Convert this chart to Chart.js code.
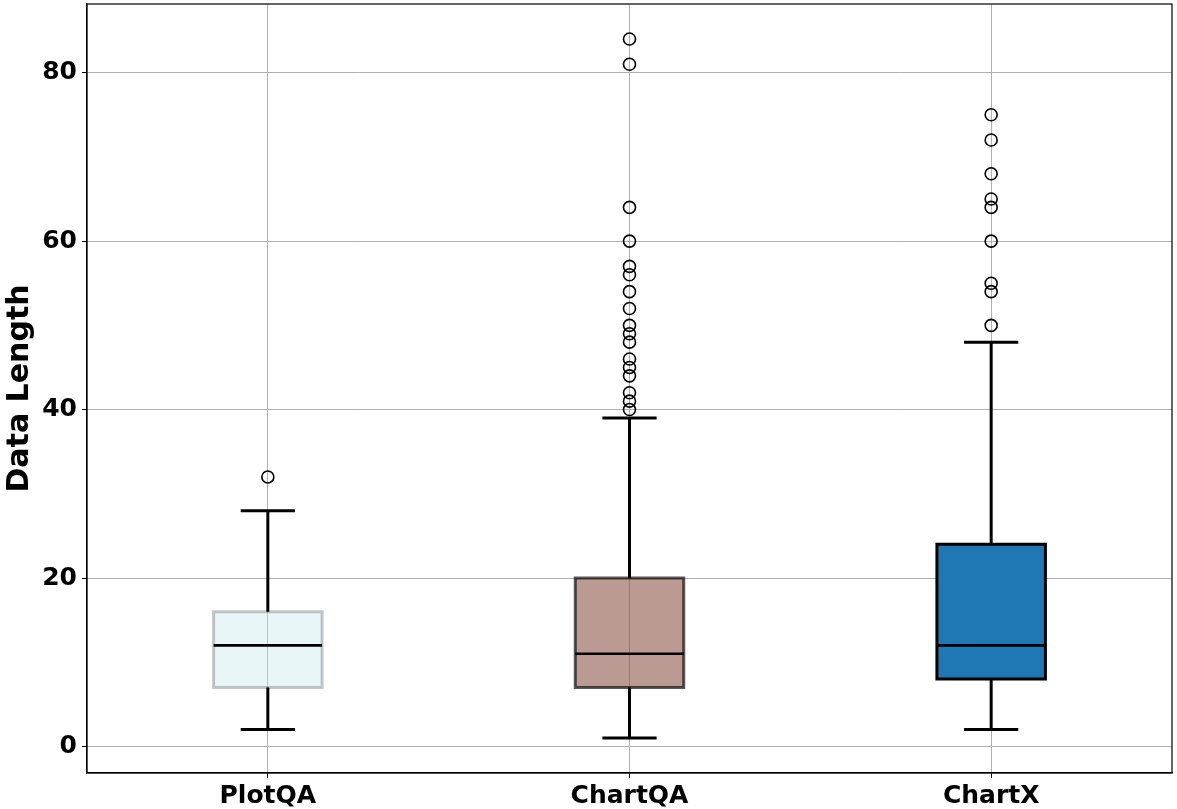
<!DOCTYPE html>
<html>
<head>
<meta charset="utf-8">
<script src="https://cdn.jsdelivr.net/npm/chart.js@4/dist/chart.umd.min.js"></script>
<style>
  html, body { margin: 0; padding: 0; background: #fff; }
  #wrap { width: 1177px; height: 809px; position: relative; }
</style>
</head>
<body>
<div id="wrap"><canvas id="c"></canvas></div>
<script>
// ---- data ----
const categories = ['PlotQA', 'ChartQA', 'ChartX'];
const whiskerLow  = [2, 1, 2];
const q1          = [7, 7, 8];
const median      = [12, 11, 12];
const q3          = [16, 20, 24];
const whiskerHigh = [28, 39, 48];
const outliersPlotQA  = [32];
const outliersChartQA = [84, 81, 64, 60, 57, 56, 54, 52, 50, 49, 48, 46, 45, 44, 42, 41, 40];
const outliersChartX  = [75, 72, 68, 65, 64, 60, 55, 54, 50];
const yTicks = [0, 20, 40, 60, 80];

// ---- styling ----
const boxFill = ['rgba(200,232,238,0.4)', 'rgba(140,86,75,0.6)', 'rgba(31,119,180,1)'];
const boxEdge = ['rgba(0,0,0,0.22)', 'rgba(0,0,0,0.65)', 'rgba(0,0,0,1)'];
const halfBox = 0.15, halfCap = 0.075;
const FONT = 'DejaVu Sans';

const outlierSets = [outliersPlotQA, outliersChartQA, outliersChartX];
const xs = categories.map((_, i) => i + 1);

const datasets = [];
categories.forEach((c, i) => {
  const x = xs[i];
  datasets.push({
    label: c + ' whiskers',
    data: [
      {x: x, y: whiskerLow[i]}, {x: x, y: q1[i]}, {x: x, y: null},
      {x: x, y: q3[i]}, {x: x, y: whiskerHigh[i]}, {x: x + 0.5, y: null},
      {x: x - halfCap, y: whiskerLow[i]}, {x: x + halfCap, y: whiskerLow[i]}, {x: x + 0.6, y: null},
      {x: x - halfCap, y: whiskerHigh[i]}, {x: x + halfCap, y: whiskerHigh[i]}
    ],
    borderColor: '#000', borderWidth: 3, pointRadius: 0, fill: false,
    spanGaps: false, borderCapStyle: 'butt', order: 1
  });
  datasets.push({
    label: c + ' median',
    data: [{x: x - halfBox, y: median[i]}, {x: x + halfBox, y: median[i]}],
    borderColor: '#000', borderWidth: 2.6, pointRadius: 0, fill: false, order: 0
  });
  datasets.push({
    label: c + ' outliers',
    data: outlierSets[i].map(v => ({x: x, y: v})),
    showLine: false, pointStyle: 'circle', pointRadius: 6,
    pointBorderWidth: 1.6, pointBorderColor: '#000', pointBackgroundColor: 'rgba(0,0,0,0)',
    borderColor: '#000', backgroundColor: 'rgba(0,0,0,0)', order: 0
  });
  datasets.push({
    label: c + ' box',
    data: [
      {x: x - halfBox, y: q1[i]}, {x: x + halfBox, y: q1[i]},
      {x: x + halfBox, y: q3[i]}, {x: x - halfBox, y: q3[i]},
      {x: x - halfBox, y: q1[i]}
    ],
    fill: 'shape', backgroundColor: boxFill[i], borderColor: boxEdge[i],
    borderWidth: 3, pointRadius: 0, borderJoinStyle: 'miter', borderCapStyle: 'square',
    order: 5
  });
});

const frame = {
  id: 'frame',
  afterDatasetsDraw(chart) {
    const {ctx, chartArea: a} = chart;
    ctx.save();
    ctx.strokeStyle = '#000';
    ctx.lineWidth = 1.2;
    ctx.strokeRect(a.left, a.top, a.right - a.left, a.bottom - a.top);
    ctx.restore();
  }
};

new Chart(document.getElementById('c'), {
  type: 'line',
  data: { datasets },
  plugins: [frame],
  options: {
    responsive: true,
    maintainAspectRatio: false,
    animation: false,
    layout: { autoPadding: false, padding: { left: 0, right: 5, top: 4, bottom: 0 } },
    plugins: { legend: { display: false }, tooltip: { enabled: false } },
    scales: {
      x: {
        type: 'linear', min: 0.5, max: 3.5, offset: false,
        afterBuildTicks: s => { s.ticks = xs.map(v => ({value: v})); },
        afterFit: s => { s.height = 36; s.paddingLeft = 0; s.paddingRight = 0; },
        ticks: {
          callback: v => categories[Math.round(v) - 1] || '',
          color: '#000', font: { family: FONT, size: 25, weight: 'bold' },
          maxRotation: 0, autoSkip: false, padding: 3
        },
        grid: { color: '#b0b0b0', lineWidth: 1, tickColor: '#000', tickLength: 5, drawTicks: true },
        border: { display: true, color: '#000', width: 1.2 }
      },
      y: {
        type: 'linear', min: -3.15, max: 88.15,
        afterBuildTicks: s => { s.ticks = yTicks.map(v => ({value: v})); },
        afterFit: s => { s.width = 87; s.paddingTop = 0; s.paddingBottom = 0; },
        ticks: {
          callback: v => String(v),
          color: '#000', font: { family: FONT, size: 25, weight: 'bold' },
          padding: 5
        },
        grid: { color: '#b0b0b0', lineWidth: 1, tickColor: '#000', tickLength: 5, drawTicks: true },
        border: { display: true, color: '#000', width: 1.2 },
        title: {
          display: true, text: 'Data Length', color: '#000',
          font: { family: FONT, size: 30, weight: 'bold' },
          padding: { top: 2, bottom: 0 }
        }
      }
    }
  }
});
</script>
</body>
</html>
